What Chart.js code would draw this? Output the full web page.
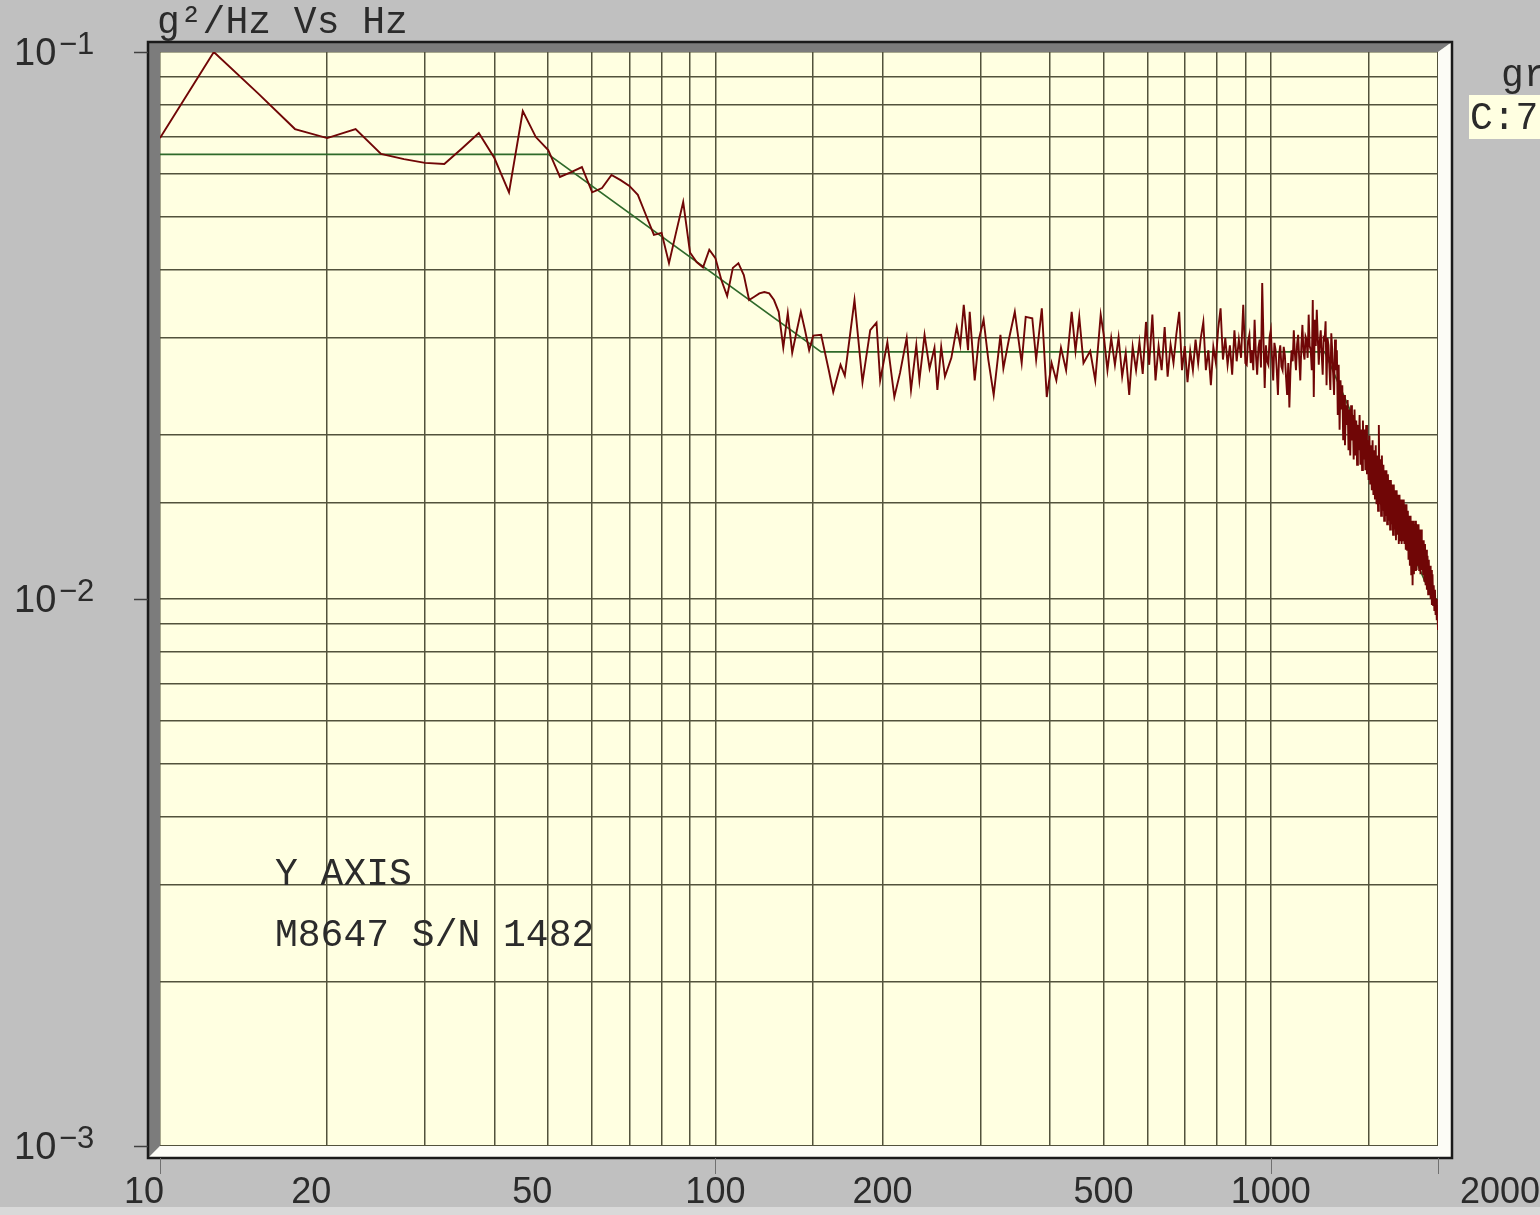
<!DOCTYPE html>
<html>
<head>
<meta charset="utf-8">
<script src="https://cdn.jsdelivr.net/npm/chart.js@4.4.1/dist/chart.umd.min.js"></script>
<style>
  html, body { margin: 0; padding: 0; background: #c0c0c0; }
  canvas { display: block; }
</style>
</head>
<body>
<canvas id="psd" width="1540" height="1215"></canvas>
<script>
var lowFreq = [10, 12.5, 15, 17.5, 20, 22.5, 25, 27.5, 30, 32.5,
  35, 37.5, 40, 42.5, 45, 47.5, 50, 52.5, 55, 57.5,
  60, 62.5, 65, 67.5, 70, 72.5, 75, 77.5, 80, 82.5,
  85, 87.5, 90, 92.5, 95, 97.5, 100, 102.5, 105, 107.5,
  110, 112.5, 115, 117.5, 120, 122.5, 125, 127.5, 130, 132.5,
  135, 137.5, 140, 142.5, 145, 147.5, 150];
var lowPsd = [0.0696, 0.1000, 0.0841, 0.0723, 0.0696, 0.0723, 0.0651, 0.0637, 0.0627, 0.0624,
  0.0667, 0.0711, 0.0640, 0.0554, 0.0780, 0.0699, 0.0662, 0.0591, 0.0603, 0.0616,
  0.0554, 0.0564, 0.0596, 0.0583, 0.0569, 0.0548, 0.0503, 0.0463, 0.0467, 0.0411,
  0.0469, 0.0532, 0.0430, 0.0413, 0.0404, 0.0435, 0.0420, 0.0383, 0.0358, 0.0403,
  0.0411, 0.0391, 0.0352, 0.0357, 0.0362, 0.0364, 0.0362, 0.0352, 0.0335, 0.0288,
  0.0333, 0.0282, 0.0308, 0.0335, 0.0310, 0.0285, 0.0303];

var midFreq = [155, 160, 163, 168, 171, 178, 184, 190, 195, 198,
  204, 210, 215, 221, 225, 230, 233, 238, 243, 248,
  251, 255, 259, 266, 272, 276, 280, 285, 287, 293,
  298, 304, 310, 317, 326, 330, 338, 346, 356, 362,
  372, 378, 387, 395, 403, 411, 419, 428, 438, 445,
  452, 460, 473, 483, 494];
var midPsd = [0.0304, 0.0262, 0.0239, 0.0268, 0.0256, 0.0352, 0.0249, 0.0310, 0.0320, 0.0251,
  0.0295, 0.0234, 0.0259, 0.0300, 0.0241, 0.0291, 0.0251, 0.0304, 0.0264, 0.0288,
  0.0241, 0.0289, 0.0255, 0.0276, 0.0314, 0.0291, 0.0345, 0.0285, 0.0335, 0.0251,
  0.0298, 0.0324, 0.0274, 0.0236, 0.0304, 0.0264, 0.0300, 0.0335, 0.0270, 0.0328,
  0.0326, 0.0274, 0.0340, 0.0234, 0.0270, 0.0251, 0.0288, 0.0262, 0.0335, 0.0284,
  0.0328, 0.0270, 0.0284, 0.0251, 0.0331];

var upperFreq = [500, 508, 516, 524, 532, 540, 548, 556, 564, 572,
  580, 588, 596, 604, 612, 620, 628, 636, 644, 652,
  660, 668, 676, 684, 692, 700, 708, 716, 724, 732,
  740, 748, 756, 764, 772, 780, 788, 796, 804, 812,
  820, 828, 836, 844, 852, 860, 868, 876, 884, 892,
  900];
var upperPsd = [0.0305, 0.0262, 0.0300, 0.0268, 0.0301, 0.0255, 0.0282, 0.0236, 0.0289, 0.0262,
  0.0295, 0.0258, 0.0321, 0.0268, 0.0331, 0.0251, 0.0290, 0.0262, 0.0314, 0.0255,
  0.0292, 0.0270, 0.0305, 0.0335, 0.0262, 0.0290, 0.0249, 0.0284, 0.0262, 0.0298,
  0.0270, 0.0300, 0.0321, 0.0262, 0.0285, 0.0246, 0.0289, 0.0271, 0.0312, 0.0340,
  0.0274, 0.0300, 0.0268, 0.0291, 0.0257, 0.0310, 0.0272, 0.0298, 0.0276, 0.0345,
  0.0270];

var bandFreq = [905, 910, 915, 920, 925, 930, 935, 940, 945, 950,
  955, 960, 965, 970, 975, 980, 985, 990, 995, 1000,
  1005, 1010, 1015, 1020, 1025, 1030, 1035, 1040, 1045, 1050,
  1055, 1060, 1065, 1070, 1075, 1080, 1085, 1090, 1095, 1100,
  1105, 1110, 1115, 1120, 1125, 1130, 1135, 1140, 1145, 1150,
  1155, 1160, 1165, 1170, 1175, 1180, 1185, 1190, 1195, 1200,
  1205, 1210, 1215, 1220, 1225, 1230, 1235, 1240, 1245, 1250,
  1255, 1260, 1265, 1270, 1275, 1280, 1285, 1290, 1295];
var bandPsd = [0.0268, 0.0296, 0.0304, 0.0270, 0.0285, 0.0262, 0.0324, 0.0280, 0.0257, 0.0288,
  0.0298, 0.0265, 0.0378, 0.0300, 0.0243, 0.0291, 0.0272, 0.0268, 0.0301, 0.0310,
  0.0277, 0.0251, 0.0294, 0.0285, 0.0262, 0.0236, 0.0280, 0.0291, 0.0266, 0.0262,
  0.0289, 0.0279, 0.0255, 0.0236, 0.0270, 0.0224, 0.0262, 0.0285, 0.0272, 0.0310,
  0.0281, 0.0262, 0.0292, 0.0304, 0.0275, 0.0251, 0.0290, 0.0317, 0.0283, 0.0274,
  0.0302, 0.0298, 0.0276, 0.0331, 0.0290, 0.0285, 0.0262, 0.0352, 0.0234, 0.0324,
  0.0290, 0.0338, 0.0300, 0.0268, 0.0296, 0.0310, 0.0280, 0.0257, 0.0300, 0.0298,
  0.0322, 0.0246, 0.0300, 0.0291, 0.0265, 0.0241, 0.0306, 0.0285, 0.0258];

var highFreq = [1300, 1305, 1310, 1315, 1320, 1325, 1330, 1335, 1340, 1345,
  1350, 1355, 1360, 1365, 1370, 1375, 1380, 1385, 1390, 1395,
  1400, 1405, 1410, 1415, 1420, 1425, 1430, 1435, 1440, 1445,
  1450, 1455, 1460, 1465, 1470, 1475, 1480, 1485, 1490, 1495,
  1500, 1505, 1510, 1515, 1520, 1525, 1530, 1535, 1540, 1545,
  1550, 1555, 1560, 1565, 1570, 1575, 1580, 1585, 1590, 1595,
  1600, 1605, 1610, 1615, 1620, 1625, 1630, 1635, 1640, 1645,
  1650, 1655, 1660, 1665, 1670, 1675, 1680, 1685, 1690, 1695,
  1700, 1705, 1710, 1715, 1720, 1725, 1730, 1735, 1740, 1745,
  1750, 1755, 1760, 1765, 1770, 1775, 1780, 1785, 1790, 1795,
  1800, 1805, 1810, 1815, 1820, 1825, 1830, 1835, 1840, 1845,
  1850, 1855, 1860, 1865, 1870, 1875, 1880, 1885, 1890, 1895,
  1900, 1905, 1910, 1915, 1920, 1925, 1930, 1935, 1940, 1945,
  1950, 1955, 1960, 1965, 1970, 1975, 1980, 1985, 1990, 1995,
  2000];
var highPsd = [0.0236, 0.0298, 0.0262, 0.0285, 0.0217, 0.0268, 0.0204, 0.0251, 0.0222, 0.0246,
  0.0195, 0.0236, 0.0191, 0.0226, 0.0208, 0.0231, 0.0187, 0.0222, 0.0183, 0.0226,
  0.0195, 0.0217, 0.0180, 0.0222, 0.0183, 0.0212, 0.0176, 0.0208, 0.0187, 0.0217,
  0.0176, 0.0204, 0.0172, 0.0212, 0.0180, 0.0204, 0.0172, 0.0208, 0.0169, 0.0195,
  0.0165, 0.0199, 0.0162, 0.0191, 0.0158, 0.0195, 0.0155, 0.0187, 0.0152, 0.0191,
  0.0149, 0.0183, 0.0145, 0.0208, 0.0149, 0.0180, 0.0142, 0.0183, 0.0145, 0.0176,
  0.0139, 0.0172, 0.0142, 0.0172, 0.0137, 0.0169, 0.0139, 0.0165, 0.0134, 0.0165,
  0.0137, 0.0162, 0.0131, 0.0162, 0.0134, 0.0158, 0.0128, 0.0158, 0.0131, 0.0155,
  0.0126, 0.0155, 0.0128, 0.0152, 0.0126, 0.0152, 0.0128, 0.0152, 0.0126, 0.0149,
  0.0123, 0.0149, 0.0123, 0.0145, 0.0118, 0.0142, 0.0115, 0.0142, 0.0111, 0.0139,
  0.0106, 0.0139, 0.0111, 0.0137, 0.0113, 0.0139, 0.0113, 0.0137, 0.0115, 0.0137,
  0.0113, 0.0134, 0.0111, 0.0134, 0.0113, 0.0128, 0.0111, 0.0128, 0.0108, 0.0126,
  0.0106, 0.0123, 0.0104, 0.0120, 0.0102, 0.0118, 0.0102, 0.0115, 0.0100, 0.0113,
  0.00975, 0.0111, 0.00975, 0.0106, 0.00955, 0.0104, 0.00935, 0.0100, 0.00915, 0.00975,
  0.00878];

// reference (test) profile
var refFreq = [10, 50, 155, 1250, 2000];
var refPsd = [0.065, 0.065, 0.0283, 0.0283, 0.0095];

var xLabels = [10, 20, 50, 100, 200, 500, 1000, 2000];
var yDecades = [0.1, 0.01, 0.001];

var psdFreq = lowFreq.concat(midFreq, upperFreq, bandFreq, highFreq);
var psdVal = lowPsd.concat(midPsd, upperPsd, bandPsd, highPsd);

function points(xs, ys) {
  return xs.map(function (x, i) { return { x: x, y: ys[i] }; });
}

var gridColor = "#52523c";
var textColor = "#2b2b2b";
var mono = '"Courier New", "Liberation Mono", monospace';
var sans = '"Liberation Sans", Arial, sans-serif';

var framePlugin = {
  id: "frame",
  beforeDraw: function (chart) {
    var ctx = chart.ctx, a = chart.chartArea;
    ctx.save();
    ctx.fillStyle = "#c0c0c0";
    ctx.fillRect(0, 0, chart.width, chart.height);
    ctx.fillStyle = "#d9d9d9";
    ctx.fillRect(0, chart.height - 8, chart.width, 8);
    ctx.fillStyle = "#ffffe1";
    ctx.fillRect(a.left, a.top, a.right - a.left, a.bottom - a.top);
    ctx.restore();
  },
  afterDraw: function (chart) {
    var ctx = chart.ctx, a = chart.chartArea;
    var xs = chart.scales.x, ys = chart.scales.y;
    var L = a.left - 12, T = a.top - 10, R = a.right + 14, B = a.bottom + 12;
    ctx.save();

    // bevelled frame
    ctx.fillStyle = "#7c7c7c";
    ctx.beginPath();
    ctx.moveTo(L, T); ctx.lineTo(R, T); ctx.lineTo(a.right, a.top);
    ctx.lineTo(a.left, a.top); ctx.lineTo(a.left, a.bottom); ctx.lineTo(L, B);
    ctx.closePath(); ctx.fill();
    ctx.fillStyle = "#fcfcf6";
    ctx.beginPath();
    ctx.moveTo(R, T); ctx.lineTo(R, B); ctx.lineTo(L, B);
    ctx.lineTo(a.left, a.bottom); ctx.lineTo(a.right, a.bottom); ctx.lineTo(a.right, a.top);
    ctx.closePath(); ctx.fill();
    ctx.strokeStyle = "#1a1a1a";
    ctx.lineWidth = 2.5;
    ctx.strokeRect(L, T, R - L, B - T);

    // decade tick marks
    ctx.lineWidth = 1.5;
    ctx.strokeStyle = "#404040";
    yDecades.forEach(function (v) {
      var y = Math.round(ys.getPixelForValue(v)) + 0.5;
      ctx.beginPath(); ctx.moveTo(L - 14, y); ctx.lineTo(L, y); ctx.stroke();
    });
    ctx.strokeStyle = "#707070";
    ctx.lineWidth = 1;
    [10, 100, 1000, 2000].forEach(function (v) {
      var x = Math.round(xs.getPixelForValue(v)) + 0.5;
      ctx.beginPath(); ctx.moveTo(x, B); ctx.lineTo(x, B + 16); ctx.stroke();
    });

    // x labels
    ctx.fillStyle = textColor;
    ctx.font = "36px " + sans;
    ctx.textBaseline = "alphabetic";
    xLabels.forEach(function (v, i) {
      var x = xs.getPixelForValue(v);
      var s = String(v);
      if (i === xLabels.length - 1) {
        ctx.textAlign = "left";
        ctx.fillText(s, x + 22, 1203);
      } else {
        ctx.textAlign = "center";
        ctx.fillText(s, s.length === 2 ? x - 16 : x, 1203);
      }
    });

    // y labels 10^-n
    ctx.textAlign = "left";
    yDecades.forEach(function (v) {
      var y = ys.getPixelForValue(v);
      var n = Math.round(Math.log10(v));
      ctx.font = "38px " + sans;
      ctx.fillText("10", 14, y + 13);
      ctx.font = "31px " + sans;
      ctx.fillText("\u2212" + Math.abs(n), 59, y + 2);
    });

    // captions
    ctx.font = "38px " + mono;
    ctx.fillText("g\u00b2/Hz Vs Hz", 157, 33);
    ctx.fillText("Y AXIS", 275, 885);
    ctx.fillText("M8647 S/N 1482", 275, 946);
    ctx.fillText("gr", 1501, 86);
    ctx.fillStyle = "#ffffe1";
    ctx.fillRect(1469, 95, 80, 44);
    ctx.fillStyle = textColor;
    ctx.fillText("C:7", 1470, 129);
    ctx.restore();
  }
};

var ctx = document.getElementById("psd").getContext("2d");
var psdChart = new Chart(ctx, {
  type: "line",
  data: {
    datasets: [
      {
        label: "PSD",
        data: points(psdFreq, psdVal),
        borderColor: "#700606",
        borderWidth: 1.9,
        pointRadius: 0,
        tension: 0,
      },
      {
        label: "Profile",
        data: points(refFreq, refPsd),
        borderColor: "#2f6a2a",
        borderWidth: 1.6,
        pointRadius: 0,
        tension: 0,
      },
    ],
  },
  options: {
    responsive: false,
    animation: false,
    layout: { padding: { left: 160, top: 52, right: 102, bottom: 69 } },
    plugins: { legend: { display: false }, tooltip: { enabled: false } },
    scales: {
      x: {
        type: "logarithmic",
        min: 10,
        max: 2000,
        border: { display: false },
        grid: { color: gridColor, lineWidth: 1.5, drawTicks: false },
        ticks: { display: false, autoSkip: false },
        afterFit: function (s) { s.height = 0; },
      },
      y: {
        type: "logarithmic",
        min: 0.001,
        max: 0.1,
        border: { display: false },
        grid: { color: gridColor, lineWidth: 1.5, drawTicks: false },
        ticks: { display: false, autoSkip: false },
        afterFit: function (s) { s.width = 0; },
      },
    },
  },
  plugins: [framePlugin],
});
</script>
</body>
</html>
